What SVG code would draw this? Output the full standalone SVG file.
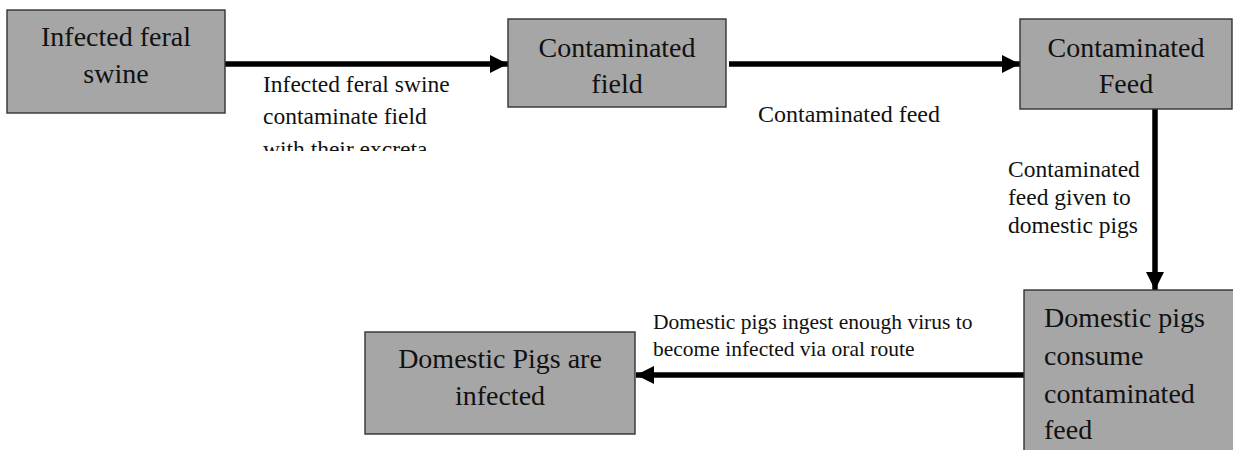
<svg xmlns="http://www.w3.org/2000/svg" width="1233" height="450" viewBox="0 0 1233 450">
  <style>
    .box { fill: #a6a6a6; stroke: #333333; stroke-width: 1.4; }
    .bt { font-family: 'Liberation Serif', 'Tinos', 'Times New Roman', 'DejaVu Serif', serif; font-size: 28px; fill: #111111; }
    .lt { font-family: 'Liberation Serif', 'Tinos', 'Times New Roman', 'DejaVu Serif', serif; fill: #111111; }
    .conn { stroke: #000000; stroke-width: 5.5; fill: none; }
  </style>
  <defs>
    <marker id="ah" markerUnits="userSpaceOnUse" markerWidth="18" markerHeight="18" refX="18" refY="9" orient="auto">
      <path d="M0,0 L18,9 L0,18 Z" fill="#000000"/>
    </marker>
    <clipPath id="clip1"><rect x="250" y="70" width="220" height="81"/></clipPath>
    <clipPath id="clip2"><rect x="740" y="95" width="220" height="39"/></clipPath>
  </defs>
  <rect width="1233" height="450" fill="#ffffff"/>

  <g id="connectors">
    <line class="conn" x1="225" y1="64" x2="508" y2="64" marker-end="url(#ah)"/>
    <line class="conn" x1="729" y1="64" x2="1020" y2="64" marker-end="url(#ah)"/>
    <line class="conn" x1="1155" y1="109" x2="1155" y2="290" marker-end="url(#ah)"/>
    <line class="conn" x1="1024" y1="375" x2="636" y2="375" marker-end="url(#ah)"/>
    <g id="label1" clip-path="url(#clip1)">
      <text class="lt" font-size="23.5" x="263" y="92">Infected feral swine</text>
      <text class="lt" font-size="23.5" x="263" y="124">contaminate field</text>
      <text class="lt" font-size="23.5" x="263" y="157">with their excreta</text>
    </g>
    <g id="label2" clip-path="url(#clip2)">
      <text class="lt" font-size="24" x="758" y="122">Contaminated feed</text>
    </g>
    <g id="label3">
      <text class="lt" font-size="23.5" x="1008" y="177">Contaminated</text>
      <text class="lt" font-size="23.5" x="1008" y="205">feed given to</text>
      <text class="lt" font-size="23.5" x="1008" y="233">domestic pigs</text>
    </g>
    <g id="label4">
      <text class="lt" font-size="21.5" x="653" y="329">Domestic pigs ingest enough virus to</text>
      <text class="lt" font-size="21.5" x="653" y="356">become infected via oral route</text>
    </g>
  </g>

  <g id="node-feral-swine">
    <rect class="box" x="7" y="10" width="218" height="103"/>
    <text class="bt" x="116" y="46" text-anchor="middle">Infected feral</text>
    <text class="bt" x="116" y="83" text-anchor="middle">swine</text>
  </g>
  <g id="node-field">
    <rect class="box" x="508" y="19" width="218" height="88"/>
    <text class="bt" x="617" y="57" text-anchor="middle">Contaminated</text>
    <text class="bt" x="617" y="93" text-anchor="middle">field</text>
  </g>
  <g id="node-feed">
    <rect class="box" x="1020" y="19" width="212" height="90"/>
    <text class="bt" x="1126" y="57" text-anchor="middle">Contaminated</text>
    <text class="bt" x="1126" y="93" text-anchor="middle">Feed</text>
  </g>
  <g id="node-consume">
    <rect class="box" x="1024" y="290" width="220" height="170"/>
    <text class="bt" x="1044" y="327">Domestic pigs</text>
    <text class="bt" x="1044" y="365">consume</text>
    <text class="bt" x="1044" y="403">contaminated</text>
    <text class="bt" x="1044" y="439">feed</text>
  </g>
  <g id="node-infected">
    <rect class="box" x="365" y="332" width="270" height="102"/>
    <text class="bt" x="500" y="368" text-anchor="middle">Domestic Pigs are</text>
    <text class="bt" x="500" y="405" text-anchor="middle">infected</text>
  </g>
</svg>
